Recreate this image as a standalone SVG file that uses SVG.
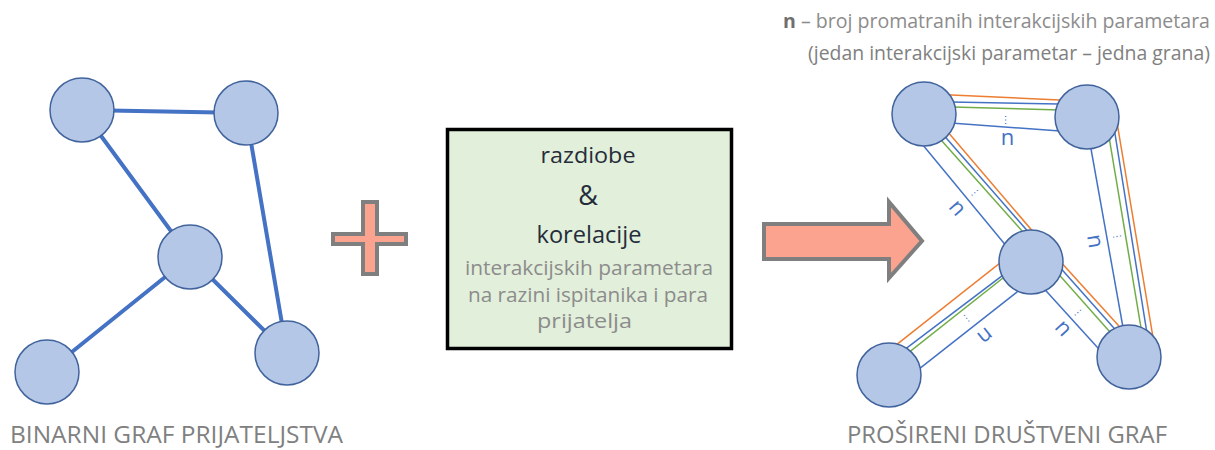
<svg xmlns="http://www.w3.org/2000/svg" width="1215" height="450" viewBox="0 0 1215 450">
<style>
.node{fill:#B4C7E7;stroke:#41639C;stroke-width:1.5}
.e1{stroke:#4472C4;stroke-width:4;stroke-linecap:round}
.o{stroke:#ED7D31;stroke-width:1.5;fill:none}
.b{stroke:#4472C4;stroke-width:1.5;fill:none}
.g{stroke:#70AD47;stroke-width:1.5;fill:none}
.n{font-family:"Open Sans","Liberation Sans",sans-serif;font-size:22px;fill:#4472C4;text-anchor:middle}
.dots{font-family:"Liberation Sans",sans-serif;font-size:11px;fill:#4472C4;text-anchor:middle}
.lbl{font-family:"Open Sans","Liberation Sans",sans-serif;fill:#808080}
.dark{font-family:"Open Sans","Liberation Sans",sans-serif;fill:#262D3A;text-anchor:middle}
.grey{font-family:"Open Sans","Liberation Sans",sans-serif;fill:#8C8C8C;font-size:20px}
.shape{fill:#FBA38F;stroke:#7F7F7F;stroke-width:4;stroke-linejoin:miter}
</style>

<!-- left graph connectors -->
<g id="connectors-left">
<line class="e1" x1="82" y1="110" x2="246" y2="113"/>
<line class="e1" x1="82" y1="110" x2="190" y2="257"/>
<line class="e1" x1="246" y1="113" x2="287" y2="353"/>
<line class="e1" x1="190" y1="257" x2="47" y2="372"/>
<line class="e1" x1="190" y1="257" x2="287" y2="353"/>
</g>
<g id="L-A"><circle class="node" cx="82" cy="110" r="32"/></g>
<g id="L-B"><circle class="node" cx="246" cy="113" r="32"/></g>
<g id="L-C"><circle class="node" cx="190" cy="257" r="32"/></g>
<g id="L-D"><circle class="node" cx="47" cy="372" r="32"/></g>
<g id="L-E"><circle class="node" cx="287" cy="353" r="32"/></g>
<text id="label-left" class="lbl" x="10" y="443" font-size="24" textLength="333" lengthAdjust="spacingAndGlyphs">BINARNI GRAF PRIJATELJSTVA</text>

<!-- plus -->
<g id="plus"><path class="shape" d="M363,202 H377 V234 H406 V244 H377 V274 H363 V244 H333 V234 H363 Z"/></g>

<!-- box -->
<g id="box">
<rect x="447.5" y="129.5" width="284" height="219" fill="#E2EFDA" stroke="#000" stroke-width="3.5"/>
<text class="dark" x="588" y="163" font-size="22" textLength="95" lengthAdjust="spacingAndGlyphs">razdiobe</text>
<text class="dark" x="588" y="205" font-size="27">&amp;</text>
<text class="dark" x="589" y="243" font-size="23" textLength="105" lengthAdjust="spacingAndGlyphs">korelacije</text>
<text class="grey" x="465" y="275" textLength="248" lengthAdjust="spacingAndGlyphs">interakcijskih parametara</text>
<text class="grey" x="468" y="302" textLength="240" lengthAdjust="spacingAndGlyphs">na razini ispitanika i para</text>
<text class="grey" x="537" y="328" textLength="95" lengthAdjust="spacingAndGlyphs">prijatelja</text>
</g>

<!-- arrow -->
<g id="arrow"><path class="shape" d="M764,224 H889 V202 L922,241 L889,278 V259 H764 Z"/></g>

<!-- right graph connectors -->
<g id="connectors-right">
<g id="edge-AB">
<line class="o" x1="924" y1="93.8" x2="1087" y2="101.2"/>
<line class="b" x1="924" y1="101.5" x2="1087" y2="104.5"/>
<line class="g" x1="924" y1="106.3" x2="1087" y2="110.7"/>
<line class="b" x1="924" y1="121.1" x2="1087" y2="133"/>
<text class="dots" transform="translate(1006,120) rotate(90)" y="1">…</text>
<text class="n" transform="translate(1007.5,139)" y="5.8">n</text>
</g>
<g id="edge-AC">
<line class="b" x1="897.3" y1="114" x2="1019.5" y2="262"/>
<line class="g" x1="917.9" y1="114" x2="1049.7" y2="262"/>
<line class="b" x1="925.2" y1="114" x2="1054.7" y2="262"/>
<line class="o" x1="932.5" y1="114" x2="1058.9" y2="262"/>
<text class="dots" transform="translate(975,193) rotate(139)" y="1">…</text>
<text class="n" transform="translate(956.5,208.5) rotate(49)" y="5.8">n</text>
</g>
<g id="edge-BE">
<line class="b" x1="1085.3" y1="117" x2="1128.3" y2="357"/>
<line class="g" x1="1105.7" y1="117" x2="1145.9" y2="357"/>
<line class="b" x1="1112.3" y1="117" x2="1150.8" y2="357"/>
<line class="o" x1="1116.1" y1="117" x2="1156.3" y2="357"/>
<text class="dots" transform="translate(1117,237) rotate(170)" y="1">…</text>
<text class="n" transform="translate(1094,241.5) rotate(80)" y="5.8">n</text>
</g>
<g id="edge-CD">
<line class="o" x1="889" y1="350.7" x2="1031" y2="238.5"/>
<line class="b" x1="889" y1="361.3" x2="1031" y2="253.9"/>
<line class="g" x1="889" y1="368.2" x2="1031" y2="255.8"/>
<line class="b" x1="889" y1="392.6" x2="1031" y2="281"/>
<text class="dots" transform="translate(967,318) rotate(51.6)" y="1">…</text>
<text class="n" transform="translate(984.5,335) rotate(141.6)" y="5.8">n</text>
</g>
<g id="edge-CE">
<line class="o" x1="1047.3" y1="247.2" x2="1138.9" y2="348"/>
<line class="b" x1="1044.5" y1="250" x2="1135" y2="351.7"/>
<line class="g" x1="1040.3" y1="253.6" x2="1130.8" y2="355.4"/>
<line class="b" x1="1024.8" y1="267.6" x2="1116.6" y2="368.4"/>
<text class="dots" transform="translate(1078,313) rotate(138)" y="1">…</text>
<text class="n" transform="translate(1062.5,329) rotate(48)" y="5.8">n</text>
</g>
</g>
<g id="R-A"><circle class="node" cx="924" cy="114" r="32"/></g>
<g id="R-B"><circle class="node" cx="1087" cy="117" r="32"/></g>
<g id="R-C"><circle class="node" cx="1031" cy="262" r="32"/></g>
<g id="R-D"><circle class="node" cx="889" cy="375" r="32"/></g>
<g id="R-E"><circle class="node" cx="1129" cy="357" r="32"/></g>

<text id="legend1" class="lbl" x="783" y="28" font-size="19.5" fill="#8C8C8C" textLength="427" lengthAdjust="spacingAndGlyphs"><tspan font-weight="bold" fill="#6F6F6F">n</tspan><tspan fill="#8C8C8C"> – broj promatranih interakcijskih parametara</tspan></text>
<text id="legend2" class="lbl" x="808" y="60" font-size="19.5" fill="#8C8C8C" textLength="402" lengthAdjust="spacingAndGlyphs">(jedan interakcijski parametar – jedna grana)</text>
<text id="label-right" class="lbl" x="847" y="443" font-size="24" textLength="320" lengthAdjust="spacingAndGlyphs">PROŠIRENI DRUŠTVENI GRAF</text>
</svg>
